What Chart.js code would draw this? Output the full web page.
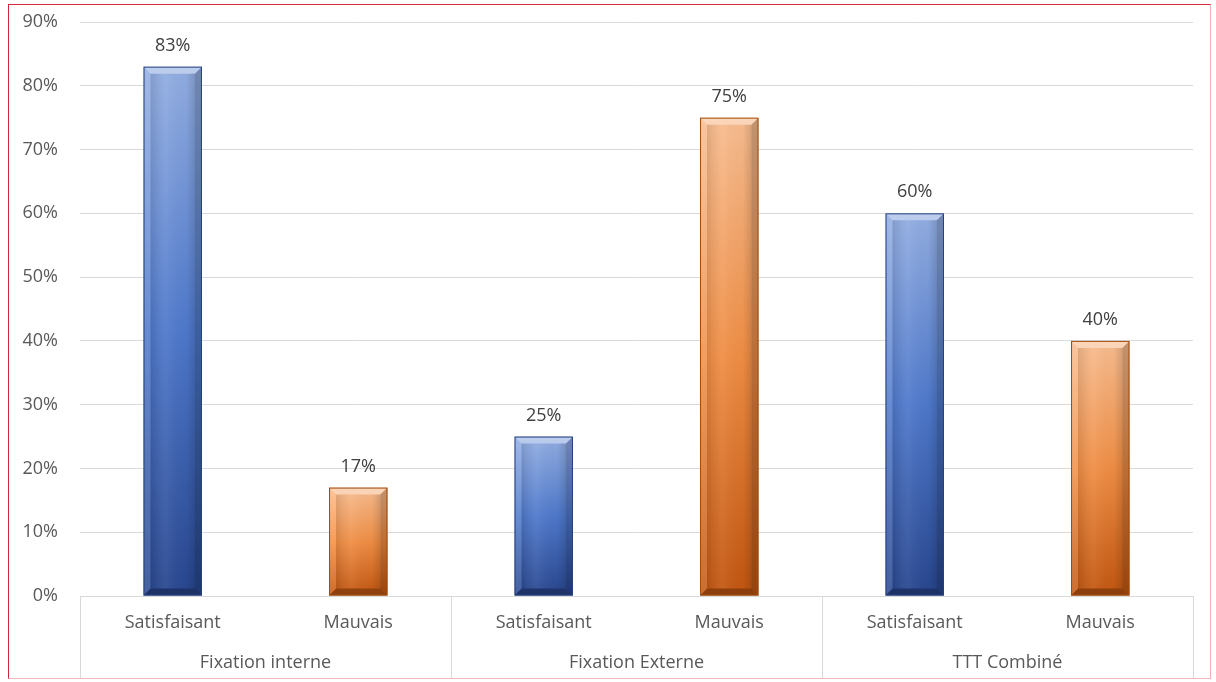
<!DOCTYPE html>
<html>
<head>
<meta charset="utf-8">
<script src="https://cdn.jsdelivr.net/npm/chart.js@4.4.1/dist/chart.umd.min.js"></script>
<style>
  html, body { margin: 0; padding: 0; background: #ffffff; }
  #wrap { position: relative; width: 1216px; height: 682px; overflow: hidden; }
  #frame { position: absolute; left: 8px; top: 4px; width: 1203px; height: 675px; border: 1.5px solid #d4283a; border-bottom-color: #f3b6be; border-right-color: #f0b0b8; box-sizing: border-box; pointer-events: none; }
  canvas { position: absolute; left: 0; top: 0; }
</style>
</head>
<body>
<div id="wrap">
  <canvas id="c" width="1216" height="682"></canvas>
  <div id="frame"></div>
</div>
<script>
// ---- data ----
const categories = ['Satisfaisant', 'Mauvais', 'Satisfaisant', 'Mauvais', 'Satisfaisant', 'Mauvais'];
const groups = ['Fixation interne', 'Fixation Externe', 'TTT Combiné'];
const values = [83, 17, 25, 75, 60, 40];
const yTicks = [0, 10, 20, 30, 40, 50, 60, 70, 80, 90];

const FONT = '"Open Sans", "Liberation Sans", sans-serif';
const FS = 18;
const TEXT = '#595959';

const palettes = {
  blue:   { top: '#93aee2', mid: '#4f79cc', bot: '#28468f', edge: '#27427e' },
  orange: { top: '#f8bd90', mid: '#f08e45', bot: '#c25610', edge: '#a24c0e' }
};
function pal(i) { return i % 2 === 0 ? palettes.blue : palettes.orange; }

function barGradient(ctx) {
  const chart = ctx.chart;
  const ys = chart.scales.y;
  if (!ys || ctx.dataIndex === undefined) return pal(0).mid;
  const p = pal(ctx.dataIndex);
  const top = ys.getPixelForValue(values[ctx.dataIndex]);
  const bot = ys.getPixelForValue(0);
  if (!isFinite(top) || !isFinite(bot) || top === bot) return p.mid;
  const g = chart.ctx.createLinearGradient(0, top, 0, bot);
  g.addColorStop(0, p.top);
  g.addColorStop(0.5, p.mid);
  g.addColorStop(1, p.bot);
  return g;
}

const bevelPlugin = {
  id: 'bevel',
  afterDatasetsDraw(chart) {
    const c = chart.ctx;
    const meta = chart.getDatasetMeta(0);
    meta.data.forEach((bar, i) => {
      const w = bar.width, l = bar.x - w / 2, r = bar.x + w / 2, t = bar.y, b = bar.base;
      const k = Math.min(7, (b - t) / 3);
      c.save();
      const poly = (pts, fill) => {
        c.beginPath(); c.moveTo(pts[0][0], pts[0][1]);
        for (let j = 1; j < pts.length; j++) c.lineTo(pts[j][0], pts[j][1]);
        c.closePath(); c.fillStyle = fill; c.fill();
      };
      poly([[l, t], [r, t], [r - k, t + k], [l + k, t + k]], 'rgba(255,255,255,0.38)');
      poly([[l, t], [l + k, t + k], [l + k, b - k], [l, b]], 'rgba(255,255,255,0.14)');
      poly([[r, t], [r, b], [r - k, b - k], [r - k, t + k]], 'rgba(0,0,0,0.22)');
      poly([[l, b], [l + k, b - k], [r - k, b - k], [r, b]], 'rgba(0,0,0,0.28)');
      const g = c.createLinearGradient(l + k, 0, r - k, 0);
      g.addColorStop(0, 'rgba(0,0,0,0.10)');
      g.addColorStop(0.35, 'rgba(255,255,255,0.06)');
      g.addColorStop(0.8, 'rgba(0,0,0,0.02)');
      g.addColorStop(1, 'rgba(0,0,0,0.14)');
      c.fillStyle = g;
      c.fillRect(l + k, t + k, w - 2 * k, Math.max(0, b - t - 2 * k));
      c.strokeStyle = pal(i).edge; c.lineWidth = 1;
      c.strokeRect(l + 0.5, t + 0.5, w - 1, b - t - 1);
      c.fillStyle = '#404040';
      c.font = FS + 'px ' + FONT;
      c.textAlign = 'center';
      c.textBaseline = 'middle';
      c.fillText(values[i] + '%', bar.x, t - 21);
      c.restore();
    });
  }
};

const groupAxisPlugin = {
  id: 'groupAxis',
  afterDraw(chart) {
    const c = chart.ctx;
    const xs = chart.scales.x;
    const area = chart.chartArea;
    const half = (xs.getPixelForValue(1) - xs.getPixelForValue(0)) / 2;
    c.save();
    c.strokeStyle = '#d9d9d9';
    c.lineWidth = 1;
    const bottom = 679;
    for (let gI = 0; gI <= groups.length; gI++) {
      let x;
      if (gI < groups.length) x = xs.getPixelForValue(gI * 2) - half;
      else x = xs.getPixelForValue(groups.length * 2 - 1) + half;
      x = Math.round(x) + 0.5;
      c.beginPath(); c.moveTo(x, area.bottom); c.lineTo(x, bottom); c.stroke();
    }
    c.fillStyle = TEXT;
    c.font = FS + 'px ' + FONT;
    c.textAlign = 'center';
    c.textBaseline = 'middle';
    groups.forEach((g, gI) => {
      const cx = (xs.getPixelForValue(gI * 2) + xs.getPixelForValue(gI * 2 + 1)) / 2;
      c.fillText(g, cx, 663);
    });
    c.restore();
  }
};

new Chart(document.getElementById('c'), {
  type: 'bar',
  data: {
    labels: categories,
    datasets: [{
      data: values,
      backgroundColor: barGradient,
      borderWidth: 0,
      barPercentage: 0.315,
      categoryPercentage: 1.0
    }]
  },
  options: {
    responsive: false,
    animation: false,
    devicePixelRatio: 1,
    layout: { padding: { left: 0, top: 22, right: 23, bottom: 0 } },
    plugins: { legend: { display: false }, tooltip: { enabled: false } },
    scales: {
      x: {
        grid: { display: false, drawTicks: false },
        border: { display: true, color: '#d9d9d9' },
        ticks: { color: TEXT, font: { family: FONT, size: FS }, padding: 16, maxRotation: 0 },
        afterFit(s) { s.height = 86; s.paddingLeft = 0; s.paddingRight = 0; }
      },
      y: {
        min: 0, max: 90,
        afterBuildTicks(s) { s.ticks = yTicks.map(v => ({ value: v })); },
        grid: { color: '#d9d9d9', drawTicks: false },
        border: { display: false },
        ticks: { color: TEXT, font: { family: FONT, size: FS }, padding: 22, callback: v => v + '%' },
        afterFit(s) { s.width = 80; s.paddingTop = 0; s.paddingBottom = 0; }
      }
    }
  },
  plugins: [bevelPlugin, groupAxisPlugin]
});
</script>
</body>
</html>
